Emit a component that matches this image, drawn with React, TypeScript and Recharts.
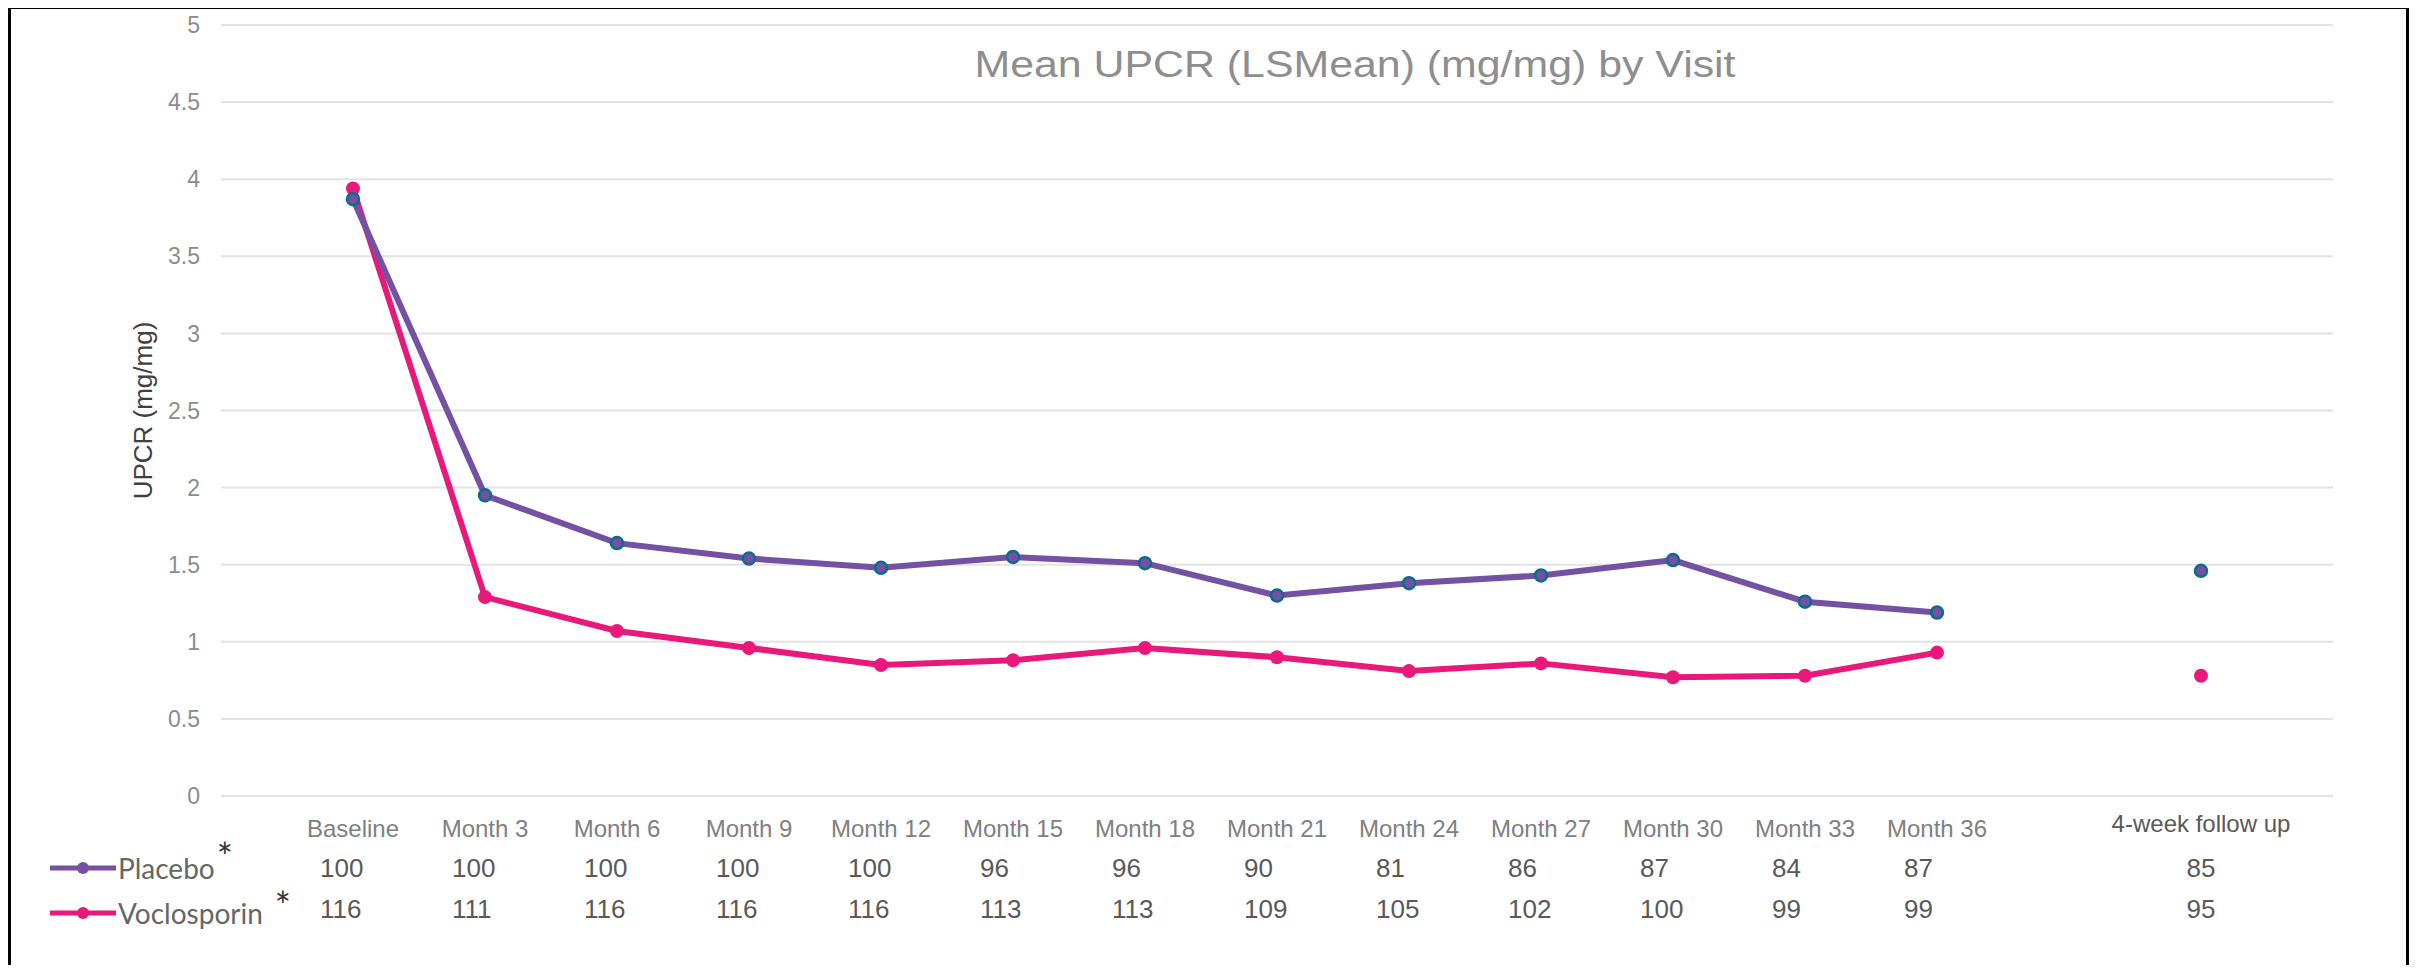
import React from "react";
import { LineChart, Line, XAxis, YAxis, CartesianGrid, Legend } from "recharts";

// visits on the x axis; the empty entry is the gap before the follow-up visit
const visits = [
  "Baseline", "Month 3", "Month 6", "Month 9", "Month 12", "Month 15", "Month 18",
  "Month 21", "Month 24", "Month 27", "Month 30", "Month 33", "Month 36", "", "4-week follow up",
];

// LS mean UPCR (mg/mg)
const placebo = [3.87, 1.95, 1.64, 1.54, 1.48, 1.55, 1.51, 1.3, 1.38, 1.43, 1.53, 1.26, 1.19, null, 1.46];
const voclosporin = [3.94, 1.29, 1.07, 0.96, 0.85, 0.88, 0.96, 0.9, 0.81, 0.86, 0.77, 0.78, 0.93, null, 0.78];

// patients at each visit
const placeboN = [100, 100, 100, 100, 100, 96, 96, 90, 81, 86, 87, 84, 87, null, 85];
const voclosporinN = [116, 111, 116, 116, 116, 113, 113, 109, 105, 102, 100, 99, 99, null, 95];

const yTicks = [0, 0.5, 1, 1.5, 2, 2.5, 3, 3.5, 4, 4.5, 5];
const legendOrder = ["Placebo", "Voclosporin"];

const PURPLE = "#7451a3";
const PINK = "#e8197b";
const FONT = '"Liberation Sans", Arial, sans-serif';

const data = visits.map((visit, i) => ({
  visit,
  Placebo: placebo[i],
  Voclosporin: voclosporin[i],
}));

function VisitTick({ x, y, payload }: any) {
  const i = visits.indexOf(payload.value);
  const label = visits[i];
  if (!label) return null;
  const followUp = i === visits.length - 1;
  const nx = followUp ? x : x - 33;
  const anchor = followUp ? "middle" : "start";
  return (
    <g>
      <text x={x} y={y + (followUp ? 27 : 32)} textAnchor="middle" dominantBaseline="central"
        fontSize={24} fill={followUp ? "#595959" : "#808080"}>
        {label}
      </text>
      <text x={nx} y={y + 72} textAnchor={anchor} dominantBaseline="central" fontSize={26} fill="#595959">
        {placeboN[i]}
      </text>
      <text x={nx} y={y + 113} textAnchor={anchor} dominantBaseline="central" fontSize={26} fill="#595959">
        {voclosporinN[i]}
      </text>
    </g>
  );
}

function YLabel({ viewBox }: any) {
  const cx = viewBox.x + 132;
  const cy = viewBox.y + viewBox.height / 2;
  return (
    <text x={cx} y={cy} transform={`rotate(-90 ${cx} ${cy})`} textAnchor="middle"
      dominantBaseline="central" fontSize={26} fill="#404040">
      UPCR (mg/mg)
    </text>
  );
}

function SeriesLegend({ payload }: any) {
  const items = [...(payload || [])].sort(
    (a: any, b: any) => legendOrder.indexOf(a.value) - legendOrder.indexOf(b.value)
  );
  return (
    <div style={{ fontFamily: "Lato, 'Open Sans', sans-serif" }}>
      {items.map((entry: any, i: number) => (
        <div key={entry.value} style={{ display: "flex", alignItems: "center", height: 45 }}>
          <svg width={66} height={20}>
            <line x1={0} y1={10} x2={66} y2={10} stroke={entry.color} strokeWidth={5} />
            <circle cx={33} cy={10} r={6} fill={entry.color} />
          </svg>
          <span style={{ fontSize: 28, color: "#666", marginLeft: 2 }}>{entry.value}</span>
          <span style={{ fontSize: 38, color: "#333", marginLeft: i === 0 ? 2 : 12, position: "relative", top: i === 0 ? -12 : -8 }}>*</span>
        </div>
      ))}
    </div>
  );
}

export default function App() {
  return (
    <div
      style={{
        width: 2401,
        height: 959,
        position: "relative",
        top: -2,
        boxSizing: "border-box",
        borderTop: "3px solid #000",
        borderLeft: "3px solid #000",
        borderRight: "3px solid #000",
        background: "#fff",
        fontFamily: FONT,
      }}
    >
      <div
        style={{
          position: "absolute",
          left: 1344,
          top: 56,
          transform: "translate(-50%, -50%) scaleX(1.19)",
          whiteSpace: "nowrap",
          fontSize: 36,
          color: "#8e8e8e",
          zIndex: 1,
        }}
      >
        Mean UPCR (LSMean) (mg/mg) by Visit
      </div>
      <LineChart
        width={2395}
        height={956}
        data={data}
        margin={{ top: 16, right: 73, bottom: 19, left: 0 }}
        style={{ fontFamily: FONT }}
      >
        <CartesianGrid vertical={false} stroke="#e3e3e3" strokeWidth={2} />
        <XAxis
          dataKey="visit"
          type="category"
          interval={0}
          padding={{ left: 132, right: 132 }}
          axisLine={false}
          tickLine={false}
          tickSize={0}
          tickMargin={0}
          height={150}
          tick={<VisitTick />}
        />
        <YAxis
          domain={[0, 5]}
          ticks={yTicks}
          width={210}
          axisLine={false}
          tickLine={false}
          tickSize={0}
          tickMargin={21}
          tick={{ fill: "#8c8c8c", fontSize: 23 }}
          label={YLabel}
        />
        <Legend
          layout="vertical"
          align="center"
          verticalAlign="middle"
          content={SeriesLegend}
          wrapperStyle={{ left: 39, top: 836, width: 340 }}
        />
        <Line
          dataKey="Voclosporin"
          stroke={PINK}
          strokeWidth={6}
          dot={{ r: 7, fill: PINK, stroke: PINK, strokeWidth: 0 }}
          activeDot={false}
          isAnimationActive={false}
        />
        <Line
          dataKey="Placebo"
          stroke={PURPLE}
          strokeWidth={6}
          dot={{ r: 6, fill: PURPLE, stroke: "#0d6b8f", strokeWidth: 2.5 }}
          activeDot={false}
          isAnimationActive={false}
        />
      </LineChart>
    </div>
  );
}
